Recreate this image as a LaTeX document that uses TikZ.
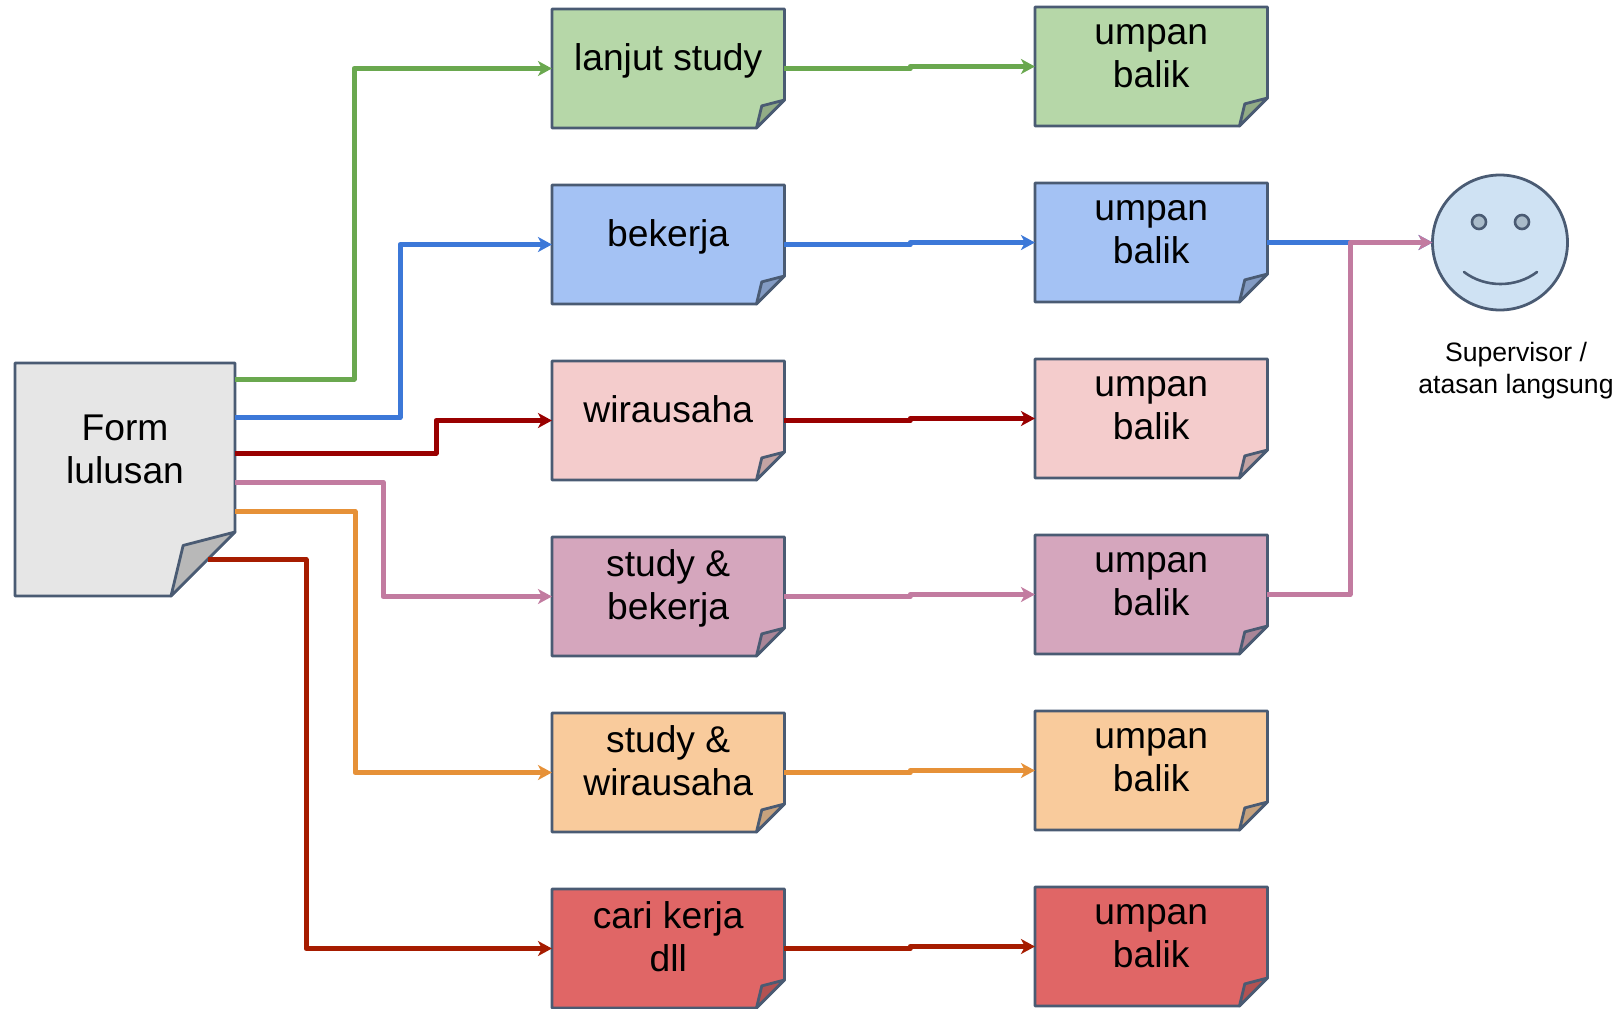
\documentclass[tikz,border=0pt]{standalone}
\usepackage{fontspec}
\setmainfont{Liberation Sans}
\usetikzlibrary{arrows.meta,calc}
\definecolor{edge}{HTML}{4A5B73}
\definecolor{gfill}{HTML}{B6D7A8}\definecolor{gline}{HTML}{6AA84F}
\definecolor{bfill}{HTML}{A4C2F4}\definecolor{bline}{HTML}{3C78D8}
\definecolor{rfill}{HTML}{F4CCCC}\definecolor{rline}{HTML}{990000}
\definecolor{pfill}{HTML}{D5A6BD}\definecolor{pline}{HTML}{C27BA0}
\definecolor{ofill}{HTML}{F9CB9C}\definecolor{oline}{HTML}{E69138}
\definecolor{dfill}{HTML}{E06666}\definecolor{dline}{HTML}{A61C00}
\definecolor{formfill}{HTML}{E6E6E6}
\definecolor{facefill}{HTML}{CFE2F3}
\definecolor{eyefill}{HTML}{A9BBC9}
\tikzset{
  x=1pt,y=-1pt,
  noteanchor/.style={rectangle,inner sep=0pt,outer sep=0pt,minimum width=232.5pt,minimum height=119pt},
  noteedge/.style={draw=edge,line width=2.8pt,line join=round},
  notetext/.style={font=\fontsize{37.2}{43}\selectfont,align=center,text=black,inner sep=0pt},
  link/.style={line width=5pt,line join=round,-{Stealth[length=14pt,width=15pt,inset=4pt]}},
}
\newcommand{\notebody}[3]{% name, fill, fold size
  \fill[#2,noteedge] (#1.north west) -- (#1.north east) -- ($(#1.south east)+(0,-#3)$)
    -- ($(#1.south east)+(-#3,0)$) -- (#1.south west) -- cycle;
  \fill[#2!80!black,noteedge] ($(#1.south east)+(0,-#3)$) -- ($(#1.south east)+(-0.81*#3,-0.79*#3)$)
    -- ($(#1.south east)+(-#3,0)$) -- cycle;
}
\newcommand{\midnote}[4]{% name, y, fill, text
  \node[noteanchor] (#1) at (668.2,#2) {};
  \notebody{#1}{#3}{28}
  \node[notetext] (#1t) at ([yshift=7pt]#1.center) {#4};
}
\newcommand{\rightnote}[3]{% name, y, fill
  \node[noteanchor] (#1) at (1151.2,#2) {};
  \notebody{#1}{#3}{28}
  \node[notetext] (#1t) at ([yshift=9pt]#1.center) {\strut umpan\strut\\\strut balik\strut};
}
\begin{document}
\begin{tikzpicture}
\useasboundingbox (0,0) rectangle (1617,1009);
% Form
\node[rectangle,inner sep=0pt,outer sep=0pt,minimum width=220pt,minimum height=233pt] (form) at (125,479.5) {};
\notebody{form}{formfill}{64}
\node[notetext] (formt) at ([yshift=26pt]form.center) {\strut Form\strut\\\strut lulusan\strut};
\coordinate (formfold) at (208,559.5);
% Middle column
\midnote{m1}{68.5}{gfill}{\strut lanjut study\strut}
\midnote{m2}{244.5}{bfill}{\strut bekerja\strut}
\midnote{m3}{420.5}{rfill}{\strut wirausaha\strut}
\midnote{m4}{596.5}{pfill}{\strut study \&\strut\\\strut bekerja\strut}
\midnote{m5}{772.5}{ofill}{\strut study \&\strut\\\strut wirausaha\strut}
\midnote{m6}{948.5}{dfill}{\strut cari kerja\strut\\\strut dll\strut}
% Right column
\rightnote{r1}{66.5}{gfill}
\rightnote{r2}{242.5}{bfill}
\rightnote{r3}{418.5}{rfill}
\rightnote{r4}{594.5}{pfill}
\rightnote{r5}{770.5}{ofill}
\rightnote{r6}{946.5}{dfill}
% Supervisor
\node[circle,draw=edge,fill=facefill,line width=2.8pt,inner sep=0pt,outer sep=0pt,minimum size=135pt] (face) at (1500,242.5) {};
\node[circle,draw=edge,fill=eyefill,line width=2.6pt,inner sep=0pt,minimum size=14pt] (eyeL) at (1479,222) {};
\node[circle,draw=edge,fill=eyefill,line width=2.6pt,inner sep=0pt,minimum size=14pt] (eyeR) at (1522,222) {};
\draw[draw=edge,line width=2.6pt,line cap=round] (1464,272) .. controls (1485,288) and (1516,288) .. (1537,272);
\node[font=\fontsize{26.6}{32}\selectfont,align=center,inner sep=0pt] (sup) at (1516,371) {Supervisor /\\atasan langsung};
% Form to middle
\coordinate (g1) at (354,379); \coordinate (b1) at (400,417.5); \coordinate (d1) at (436,453);
\coordinate (p1) at (383,482); \coordinate (o1) at (355,511.5); \coordinate (c1) at (306,559.5);
\draw[link,gline] (form.east |- g1) -- (g1) |- (m1.west);
\draw[link,bline] (form.east |- b1) -- (b1) |- (m2.west);
\draw[link,rline] (form.east |- d1) -- (d1) |- (m3.west);
\draw[link,pline] (form.east |- p1) -- (p1) |- (m4.west);
\draw[link,oline] (form.east |- o1) -- (o1) |- (m5.west);
\draw[link,dline] (formfold) -- (c1) |- (m6.west);
% Middle to right
\coordinate (midx) at (910,0);
\draw[link,gline] (m1.east) -- (midx |- m1.east) -- (midx |- r1.west) -- (r1.west);
\draw[link,bline] (m2.east) -- (midx |- m2.east) -- (midx |- r2.west) -- (r2.west);
\draw[link,rline] (m3.east) -- (midx |- m3.east) -- (midx |- r3.west) -- (r3.west);
\draw[link,pline] (m4.east) -- (midx |- m4.east) -- (midx |- r4.west) -- (r4.west);
\draw[link,oline] (m5.east) -- (midx |- m5.east) -- (midx |- r5.west) -- (r5.west);
\draw[link,dline] (m6.east) -- (midx |- m6.east) -- (midx |- r6.west) -- (r6.west);
% Right to supervisor
\coordinate (turn) at (1350,242.5);
\draw[link,bline] (r2.east) -- (face.west);
\draw[link,pline] (r4.east) -| (turn) -- (face.west);
\end{tikzpicture}
\end{document}
